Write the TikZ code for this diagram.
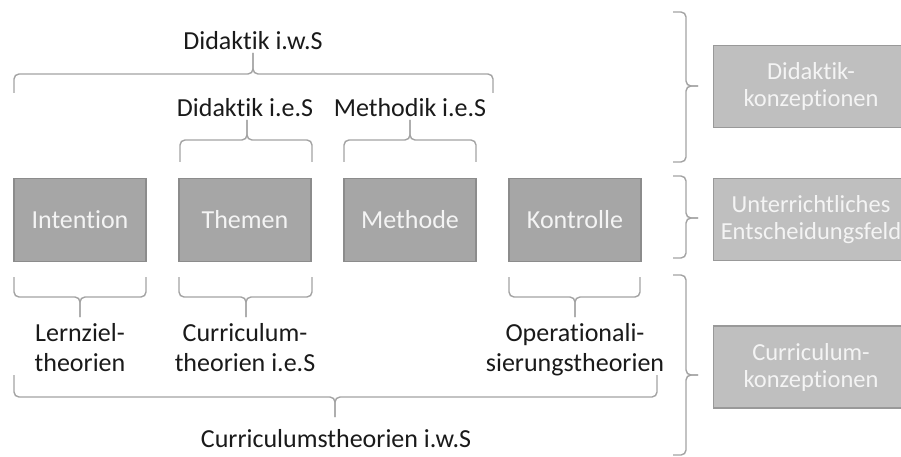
\documentclass[tikz,border=0pt]{standalone}
\usepackage{fontspec}
\setmainfont{Carlito}[Ligatures=NoCommon]
\definecolor{bracegray}{HTML}{A3A3A3}
\definecolor{lboxfill}{HTML}{A6A6A6}
\definecolor{lboxline}{HTML}{8C8C8C}
\definecolor{rboxfill}{HTML}{BFBFBF}
\definecolor{rboxline}{HTML}{999999}
\definecolor{boxtext}{HTML}{F4F4F4}
\definecolor{labeltext}{HTML}{1A1A1A}
\tikzset{
  brc/.style={draw=bracegray, line width=1.4pt, rounded corners=5pt},
  lbox/.style={draw=lboxline, fill=lboxfill, line width=1.5pt, inner sep=0pt,
    minimum width=132pt, minimum height=83pt, text=boxtext,
    font=\fontsize{26}{30}\selectfont},
  rbox/.style={draw=rboxline, fill=rboxfill, line width=1.5pt, inner sep=0pt,
    minimum width=195pt, minimum height=82pt},
  rtext/.style={text=boxtext, align=center, inner sep=0pt,
    font=\fontsize{24.5}{27}\selectfont},
  lbl/.style={text=labeltext, anchor=base, align=center, inner sep=0pt,
    font=\fontsize{26}{30}\selectfont}
}
% up-pointing brace: xl xr xtip ytip ymid yend
\newcommand\ubrc[6]{%
  \draw[brc] (#1,#6) -- (#1,#5) -- (#3,#5) -- (#3,#4);
  \draw[brc] (#2,#6) -- (#2,#5) -- (#3,#5) -- (#3,#4);}
% down-pointing brace: xl xr xtip ytip ymid yend
\newcommand\dbrc[6]{%
  \draw[brc] (#1,#6) -- (#1,#5) -- (#3,#5) -- (#3,#4);
  \draw[brc] (#2,#6) -- (#2,#5) -- (#3,#5) -- (#3,#4);}
% right-pointing brace: ytop ybot ytip
\newcommand\rbrc[3]{%
  \draw[brc] (673,#1) -- (686,#1) -- (686,#3) -- (698,#3);
  \draw[brc] (673,#2) -- (686,#2) -- (686,#3) -- (698,#3);}
\begin{document}
\begin{tikzpicture}[x=1pt,y=-1pt]
\useasboundingbox (0,0) rectangle (901,457);
\fill[white] (0,0) rectangle (901,457);

% right boxes
\node[rbox] (rb1) at (811,86.5) {};
\node[rtext] (rt1) at (811,86.5) {Didaktik-\\konzeptionen};
\node[rbox] (rb2) at (811,219.5) {};
\node[rtext] (rt2) at (811,219.5) {Unterrichtliches\\Entscheidungsfeld};
\node[rbox] (rb3) at (811,367) {};
\node[rtext] (rt3) at (811,367) {Curriculum-\\konzeptionen};

% left boxes
\node[lbox] (b1) at (80,220) {Intention};
\node[lbox] (b2) at (245,220) {Themen};
\node[lbox] (b3) at (410,220) {Methode};
\node[lbox] (b4) at (575,220) {Kontrolle};

% top labels
\node[lbl] (dws) at (253,50) {Didaktik i.w.S};
\node[lbl] (des) at (245,117) {Didaktik i.e.S};
\node[lbl] (mes) at (410,117) {Methodik i.e.S};

% bottom labels (base = baseline of last line)
\node[lbl] (lzt) at (80,371) {Lernziel-\\theorien};
\node[lbl] (cte) at (245,371) {Curriculum-\\theorien i.e.S};
\node[lbl] (opt) at (575,371) {Operationali-\\sierungstheorien};
\node[lbl] (ctw) at (336,447) {Curriculumstheorien i.w.S};

% top braces
\ubrc{14}{493}{253}{53}{74}{93}
\ubrc{180}{312}{247}{120}{140}{162}
\ubrc{344}{476}{410}{120}{140}{162}

% bottom braces
\dbrc{14}{146}{80}{317}{297}{277}
\dbrc{179}{312}{246}{317}{297}{277}
\dbrc{509}{640}{575}{317}{297}{277}
\dbrc{14}{657}{335}{417}{397}{375}

% right braces
\rbrc{12}{162}{86}
\rbrc{176}{258}{218}
\rbrc{275}{455}{375}
\end{tikzpicture}
\end{document}
